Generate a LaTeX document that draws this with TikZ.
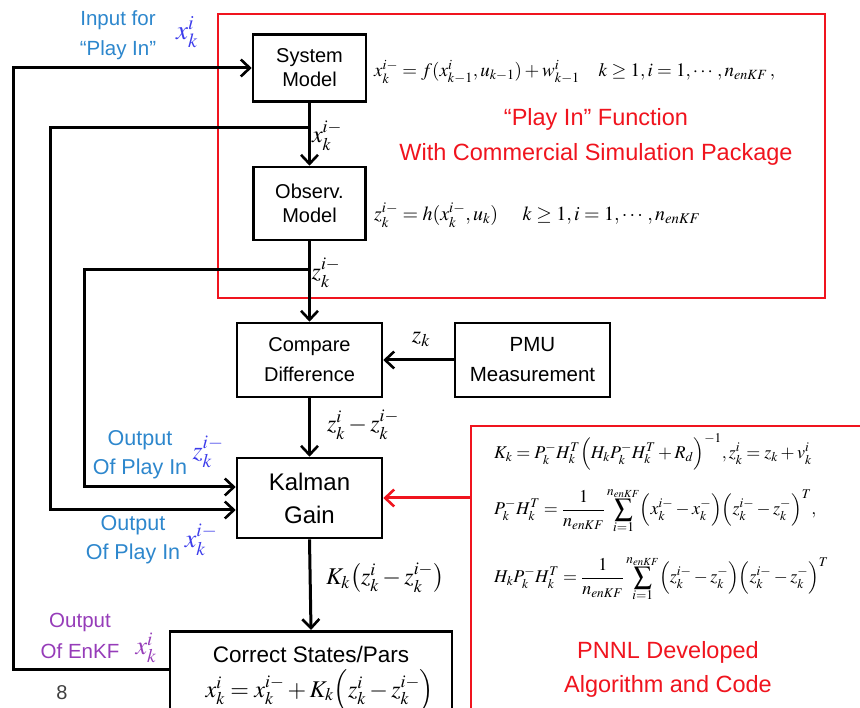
\documentclass[tikz,border=0pt]{standalone}
\usepackage{amsmath}
\usepackage{mathptmx}
\usepackage{fontspec}
\setmainfont{Liberation Sans}
\usetikzlibrary{arrows.meta}
\definecolor{lblue}{RGB}{45,135,205}
\definecolor{mblue}{RGB}{60,60,235}
\definecolor{epurple}{RGB}{150,60,185}
\definecolor{pred}{RGB}{240,20,30}
\tikzset{
  blk/.style={draw=black, line width=2.6pt, fill=white, align=center, inner sep=0pt},
  conn/.style={line width=3pt, -{Straight Barb[length=9pt,width=17pt,line width=2.6pt]}},
  redconn/.style={line width=3pt, draw=pred, -{Straight Barb[length=9pt,width=17pt,line width=2.6pt]}},
  redbox/.style={draw=pred, line width=2pt},
  lbl/.style={inner sep=0pt, align=center},
}
\begin{document}
\begin{tikzpicture}[x=1pt,y=-1pt]
\useasboundingbox (0,0) rectangle (860,708);
\clip (0,0) rectangle (860,708);
\fill[white] (0,0) rectangle (860,708);
% red frames
\node[redbox, minimum width=607pt, minimum height=284pt, inner sep=0pt] (playbox) at (521.5,156) {};
\node[redbox, minimum width=390pt, minimum height=300pt, inner sep=0pt, anchor=north west] (pnnlbox) at (470,425) {};
% blocks
\node[blk, minimum width=113pt, minimum height=67pt, font=\fontsize{20}{24}\selectfont] (sys) at (309.5,68) {System\\Model};
\node[blk, minimum width=112pt, minimum height=73pt, font=\fontsize{20}{24}\selectfont] (obs) at (309.5,203.5) {Observ.\\Model};
\node[blk, minimum width=145pt, minimum height=74pt, font=\fontsize{20}{30}\selectfont] (cmp) at (309.5,360) {Compare\\Difference};
\node[blk, minimum width=155pt, minimum height=74pt, font=\fontsize{20.5}{30}\selectfont] (pmu) at (532.5,360) {PMU\\Measurement};
\node[blk, minimum width=145pt, minimum height=80pt, font=\fontsize{24}{33}\selectfont] (kal) at (309.5,498) {Kalman\\Gain};
\node[blk, minimum width=282pt, minimum height=90pt, anchor=north] (cor) at (311,630) {};
\node[lbl, font=\fontsize{22.5}{26}\selectfont] (cortxt) at (311,654) {Correct States/Pars};
\node[lbl, anchor=base, font=\fontsize{24}{26}\selectfont] (coreq) at (320,697) {$\smash[t]{x_k^i = x_k^{i-} + K_k\Bigl(z_k^i - z_k^{i-}\Bigr)}$};
% connectors
\coordinate (xb) at (310,128);
\coordinate (zb) at (310,270);
\draw[conn] (sys.south) -- (obs.north);
\draw[conn] (obs.south) -- (cmp.north);
\draw[conn] (pmu.west) -- (cmp.east);
\draw[conn] (cmp.south) -- (kal.north);
\draw[conn] (kal.south) -- (cor.north);
\draw[conn] (cor.west |- 0,669) -| (13,400) |- (sys.west);
\draw[conn] (xb) -| (50,300) |- ([yshift=-12pt]kal.west);
\draw[conn] (zb) -| (84,300) |- ([yshift=11pt]kal.west);
\draw[redconn] (pnnlbox.west |- kal.east) -- (kal.east);
% connector labels
\node[lbl, font=\fontsize{24}{24}\selectfont] (lx) at (327,136) {$x_k^{i-}$};
\node[lbl, font=\fontsize{24}{24}\selectfont] (lz) at (326,273) {$z_k^{i-}$};
\node[lbl, font=\fontsize{24}{24}\selectfont] (lzk) at (421,339) {$z_k$};
\node[lbl, font=\fontsize{24}{24}\selectfont] (ldiff) at (363,425) {$z_k^i - z_k^{i-}$};
\node[lbl, font=\fontsize{24}{24}\selectfont] (lkd) at (385,578) {$K_k\bigl(z_k^i - z_k^{i-}\bigr)$};
% side labels
\node[lbl, text=lblue, font=\fontsize{20.5}{30}\selectfont] (inp) at (118,35) {Input for\\``Play In''};
\node[lbl, text=mblue, font=\fontsize{27}{27}\selectfont] (inpx) at (187,32) {$x_k^i$};
\node[lbl, text=lblue, font=\fontsize{21.5}{29}\selectfont] (o1) at (140,455) {Output\\Of Play In};
\node[lbl, text=mblue, font=\fontsize{26}{26}\selectfont] (o1z) at (208,452) {$z_k^{i-}$};
\node[lbl, text=lblue, font=\fontsize{21.5}{29}\selectfont] (o2) at (133,540) {Output\\Of Play In};
\node[lbl, text=mblue, font=\fontsize{26}{26}\selectfont] (o2x) at (201,540) {$x_k^{i-}$};
\node[lbl, text=epurple, font=\fontsize{20.5}{31}\selectfont] (o3) at (80,636) {Output\\Of EnKF};
\node[lbl, text=epurple, font=\fontsize{26}{26}\selectfont] (o3x) at (146,648) {$x_k^i$};
\node[lbl, text=black!75, font=\fontsize{20}{20}\selectfont] (pg) at (62,693) {8};
% top red box contents
\node[lbl, anchor=west, font=\fontsize{19}{22}\selectfont] (eqf) at (374,72) {$x_k^{i-} = f(x_{k-1}^i, u_{k-1}) + w_{k-1}^i \quad k \ge 1, i = 1,\cdots, n_{enKF}\,,$};
\node[lbl, text=pred, font=\fontsize{23.5}{35}\selectfont] (playtxt) at (596,137) {``Play In'' Function\\With Commercial Simulation Package};
\node[lbl, anchor=west, font=\fontsize{20}{22}\selectfont] (eqh) at (374,215) {$z_k^{i-} = h(x_k^{i-}, u_k) \quad\; k \ge 1, i = 1,\cdots, n_{enKF}$};
% right red box contents
\node[lbl, anchor=west, font=\fontsize{18}{20}\selectfont] (eqk) at (494,452) {$K_k = P_k^- H_k^T\Bigl(H_k P_k^- H_k^T + R_d\Bigr)^{-1}, z_k^i = z_k + v_k^i$};
\node[lbl, anchor=west, font=\fontsize{18}{20}\selectfont] (eqp) at (494,512) {$P_k^- H_k^T = \dfrac{1}{n_{enKF}}\displaystyle\sum_{\smash{i=1}}^{\smash{n_{enKF}}}\Bigl(x_k^{i-} - x_k^-\Bigr)\Bigl(z_k^{i-} - z_k^-\Bigr)^T,$};
\node[lbl, anchor=west, font=\fontsize{18}{20}\selectfont] (eqhp) at (494,580) {$H_k P_k^- H_k^T = \dfrac{1}{n_{enKF}}\displaystyle\sum_{\smash{i=1}}^{\smash{n_{enKF}}}\Bigl(z_k^{i-} - z_k^-\Bigr)\Bigl(z_k^{i-} - z_k^-\Bigr)^T$};
\node[lbl, text=pred, font=\fontsize{23.5}{34}\selectfont] (pnnltxt) at (668,669) {PNNL Developed\\Algorithm and Code};
\end{tikzpicture}
\end{document}
